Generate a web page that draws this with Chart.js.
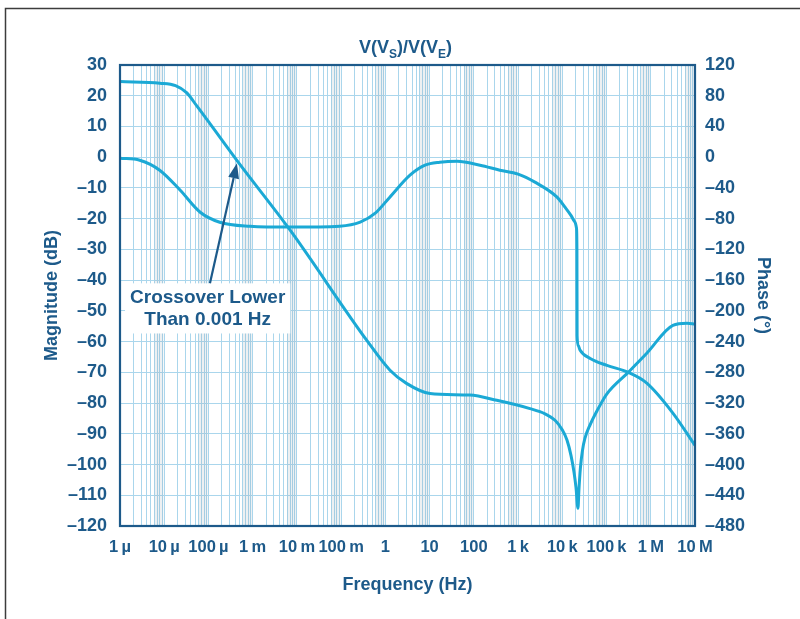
<!DOCTYPE html>
<html>
<head>
<meta charset="utf-8">
<script src="https://cdn.jsdelivr.net/npm/chart.js@4.4.1/dist/chart.umd.min.js"></script>
<style>
  html, body { margin: 0; padding: 0; background: #fff; }
  #wrap { position: relative; width: 800px; height: 619px; }
</style>
</head>
<body>
<div id="wrap"><canvas id="c" width="800" height="619"></canvas></div>
<script>
// Magnitude of V(Vs)/V(Ve), dB versus frequency (Hz)
const magFreq = [1e-6, 8e-6, 1.8e-5, 3.2e-5, 5.5e-5, 1.07e-4, 4.7e-4, 6.9e-3, 0.38, 1.27, 3.0, 10.2, 81, 330,
  1860, 4070, 6840, 9770, 12800, 15700, 18400, 20400, 22600, 23800, 25700, 28500, 32400, 42700, 61000,
  102000, 309000, 813000, 3160000, 6600000, 1e7];
const magDb = [24.6, 24.1, 23.3, 21.0, 16.6, 11.0, -1.6, -23.6, -59.6, -69.3, -73.6, -76.9, -77.4, -79.1,
  -81.8, -83.5, -85.6, -88.5, -92.1, -97, -102.5, -107.5, -114.2, -108, -101, -95.5, -91.5, -87, -82.5,
  -77, -70.0, -63.8, -54.7, -54.0, -54.3];

// Phase of V(Vs)/V(Ve), degrees versus frequency (Hz)
const phaseFreq = [1e-6, 2.8e-6, 7.9e-6, 2.3e-5, 6.5e-5, 1.8e-4, 8.7e-4, 6.9e-3, 0.093, 0.27, 0.59,
  1.26, 3.6, 7.9, 17, 42, 138, 389, 1000, 2400, 7600, 11500, 15800, 19100, 20900, 21400, 21600, 22900, 25100,
  42700, 102000, 309000, 813000, 3160000, 1e7];
const phaseDeg = [-1.3, -3.9, -16.9, -43, -71.6, -84.6, -89.8, -91, -89.8, -84.6, -72.9,
  -52, -23.4, -10.4, -6.5, -5.2, -10.4, -16.9, -22.1, -32.5, -52, -65, -76, -84, -92, -120, -232, -245, -251,
  -262, -271, -280, -294, -333, -375];

// Frequency axis decades and their labels
const xTickValues = [1e-6, 1e-5, 1e-4, 1e-3, 1e-2, 1e-1, 1, 10, 100, 1e3, 1e4, 1e5, 1e6, 1e7];
const xTickLabels = ['1\u2009µ', '10\u2009µ', '100\u2009µ', '1\u2009m', '10\u2009m', '100\u2009m', '1', '10', '100',
  '1\u2009k', '10\u2009k', '100\u2009k', '1\u2009M', '10\u2009M'];

// Callout pointing at the 0 dB crossing
const calloutLines = ['Crossover Lower', 'Than 0.001 Hz'];
const calloutArrowTail = { f: 1.08e-4, db: -41 };
const calloutArrowTip = { f: 4.4e-4, db: -2 };
const calloutTextAt = { f: 9.6e-5, db: [-45.6, -52.8] };

const INK = '#1d5a8a';
const CURVE = '#1ba9d5';
const GRID = '#aad6ec';
const FONT = '"Liberation Sans", Arial, Helvetica, sans-serif';

const dash = v => (v < 0 ? '\u2013' + Math.abs(v) : String(v));

const framePlugin = {
  id: 'frame',
  beforeDraw(chart) {
    const ctx = chart.ctx;
    ctx.save();
    ctx.fillStyle = '#fff';
    ctx.fillRect(0, 0, chart.width, chart.height);
    ctx.strokeStyle = '#3c3c3c';
    ctx.lineWidth = 1.5;
    ctx.beginPath();
    ctx.moveTo(5.5, chart.height);
    ctx.lineTo(5.5, 8.5);
    ctx.lineTo(chart.width, 8.5);
    ctx.stroke();
    ctx.restore();
  },
  beforeDatasetsDraw(chart) {
    // soft shading over the crowded upper part of every decade
    const { ctx, chartArea: a, scales: { x } } = chart;
    ctx.save();
    ctx.fillStyle = 'rgba(140,160,175,0.16)';
    for (const d of xTickValues.slice(0, -1)) {
      const x0 = x.getPixelForValue(d * 6);
      const x1 = x.getPixelForValue(d * 9.6);
      ctx.fillRect(x0, a.top, x1 - x0, a.bottom - a.top);
    }
    ctx.restore();
  },
  afterDatasetsDraw(chart) {
    const { ctx, chartArea: a, scales: { x, y } } = chart;
    ctx.save();
    // plot frame
    ctx.strokeStyle = INK;
    ctx.lineWidth = 2.2;
    ctx.strokeRect(a.left, a.top, a.right - a.left, a.bottom - a.top);

    // callout box and text
    ctx.font = 'bold 19px ' + FONT;
    const tx = x.getPixelForValue(calloutTextAt.f);
    const ys = calloutTextAt.db.map(v => y.getPixelForValue(v));
    const w = Math.max(...calloutLines.map(t => ctx.measureText(t).width)) + 10;
    ctx.fillStyle = '#fff';
    ctx.fillRect(tx - w / 2, ys[0] - 14, w, ys[1] - ys[0] + 28);
    ctx.fillStyle = INK;
    ctx.textAlign = 'center';
    ctx.textBaseline = 'middle';
    calloutLines.forEach((t, i) => ctx.fillText(t, tx, ys[i]));

    // arrow
    const x0 = x.getPixelForValue(calloutArrowTail.f), y0 = y.getPixelForValue(calloutArrowTail.db);
    const x1 = x.getPixelForValue(calloutArrowTip.f), y1 = y.getPixelForValue(calloutArrowTip.db);
    const ang = Math.atan2(y1 - y0, x1 - x0);
    const hl = 15, hw = 5.5;
    const bx = x1 - hl * Math.cos(ang), by = y1 - hl * Math.sin(ang);
    ctx.strokeStyle = INK;
    ctx.lineWidth = 2.2;
    ctx.beginPath();
    ctx.moveTo(x0, y0);
    ctx.lineTo(bx, by);
    ctx.stroke();
    ctx.fillStyle = INK;
    ctx.beginPath();
    ctx.moveTo(x1, y1);
    ctx.lineTo(bx + hw * Math.sin(ang), by - hw * Math.cos(ang));
    ctx.lineTo(bx - hw * Math.sin(ang), by + hw * Math.cos(ang));
    ctx.closePath();
    ctx.fill();

    // title V(Vs)/V(Ve) with subscripts
    const parts = [['V(V', 18, 0], ['S', 12, 5], [')/V(V', 18, 0], ['E', 12, 5], [')', 18, 0]];
    let total = 0;
    parts.forEach(p => { ctx.font = 'bold ' + p[1] + 'px ' + FONT; total += ctx.measureText(p[0]).width; });
    let cx = (a.left + a.right) / 2 - 2 - total / 2;
    ctx.textAlign = 'left';
    ctx.textBaseline = 'alphabetic';
    parts.forEach(p => {
      ctx.font = 'bold ' + p[1] + 'px ' + FONT;
      ctx.fillText(p[0], cx, 53 + p[2]);
      cx += ctx.measureText(p[0]).width;
    });
    ctx.restore();
  }
};

const lineStyle = {
  borderColor: CURVE,
  borderWidth: 3,
  pointRadius: 0,
  fill: false,
  cubicInterpolationMode: 'monotone'
};

const tickFont = { family: FONT, size: 18, weight: 'bold' };
const titleFont = { family: FONT, size: 18, weight: 'bold' };

new Chart(document.getElementById('c'), {
  type: 'line',
  data: {
    datasets: [
      Object.assign({ label: 'Magnitude', yAxisID: 'y',
        data: magFreq.map((f, i) => ({ x: f, y: magDb[i] })) }, lineStyle),
      Object.assign({ label: 'Phase', yAxisID: 'y2',
        data: phaseFreq.map((f, i) => ({ x: f, y: phaseDeg[i] })) }, lineStyle)
    ]
  },
  options: {
    responsive: false,
    animation: false,
    layout: { padding: { top: 65, left: 0, right: 0, bottom: 0 } },
    plugins: { legend: { display: false }, tooltip: { enabled: false }, title: { display: false } },
    scales: {
      x: {
        type: 'logarithmic',
        position: 'bottom',
        min: 1e-6,
        max: 1e7,
        afterBuildTicks(scale) {
          const t = [];
          for (const d of xTickValues) {
            for (let k = 1; k <= 9; k++) {
              const v = d * k;
              if (v <= 1e7 * 1.0001) t.push({ value: v });
            }
          }
          scale.ticks = t;
        },
        afterFit(scale) { scale.height = 93; },
        grid: { color: GRID, lineWidth: 1, drawTicks: false },
        border: { display: true, color: INK, width: 2 },
        ticks: {
          autoSkip: false,
          maxRotation: 0,
          minRotation: 0,
          padding: 12,
          color: INK,
          font: { family: FONT, size: 16.5, weight: 'bold' },
          callback(value) {
            const i = xTickValues.findIndex(d => Math.abs(d - value) / d < 1e-6);
            return i >= 0 ? xTickLabels[i] : '';
          }
        },
        title: {
          display: true,
          text: 'Frequency (Hz)',
          color: INK,
          font: titleFont,
          padding: { top: 0, bottom: 23 }
        }
      },
      y: {
        type: 'linear',
        position: 'left',
        min: -120,
        max: 30,
        afterFit(scale) { scale.width = 120; },
        grid: { color: GRID, lineWidth: 1, drawTicks: false },
        border: { display: true, color: INK, width: 2 },
        ticks: {
          stepSize: 10,
          padding: 13,
          color: INK,
          font: tickFont,
          callback: v => dash(v)
        },
        title: {
          display: true,
          text: 'Magnitude (dB)',
          color: INK,
          font: titleFont,
          padding: { top: 41, bottom: 0 }
        }
      },
      y2: {
        type: 'linear',
        position: 'right',
        min: -480,
        max: 120,
        afterFit(scale) { scale.width = 105; },
        grid: { drawOnChartArea: false, drawTicks: false },
        border: { display: true, color: INK, width: 2 },
        ticks: {
          stepSize: 40,
          padding: 10,
          color: INK,
          font: tickFont,
          callback: v => dash(v)
        },
        title: {
          display: true,
          text: 'Phase (°)',
          color: INK,
          font: titleFont,
          padding: { top: 26, bottom: 0 }
        }
      }
    }
  },
  plugins: [framePlugin]
});
</script>
</body>
</html>
